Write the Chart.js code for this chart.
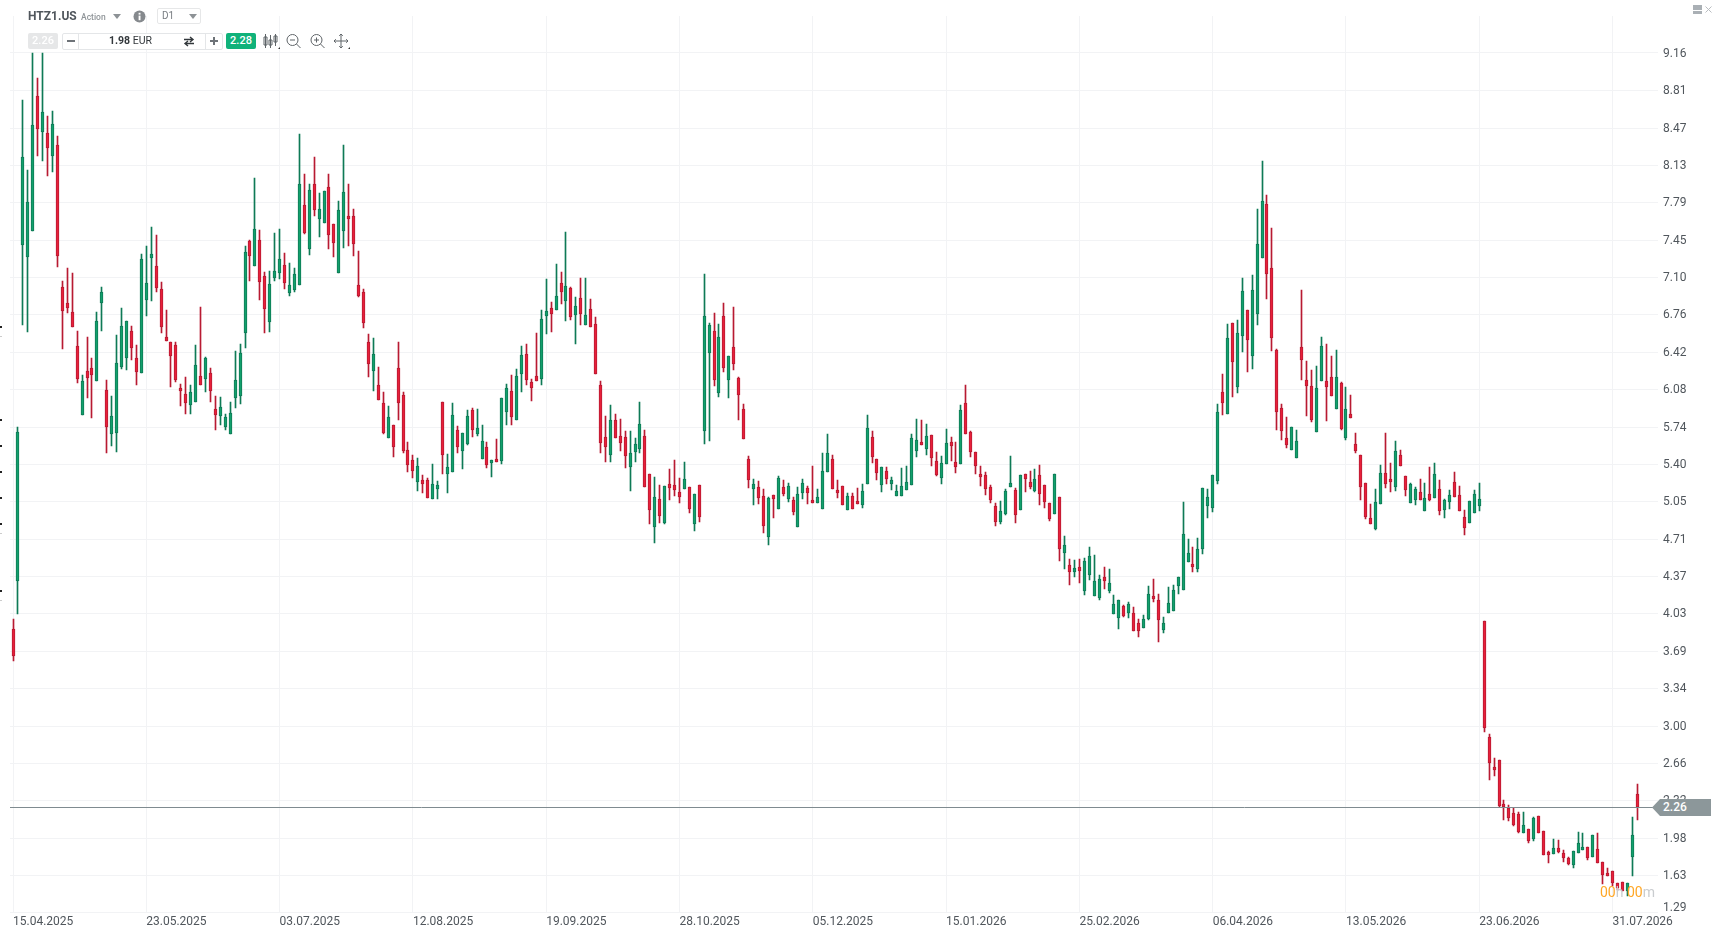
<!DOCTYPE html>
<html lang="en">
<head>
<meta charset="UTF-8">
<title>HTZ1.US D1</title>
<style>
    html, body { margin: 0; padding: 0; background: #fff; overflow: hidden; }
    body { width: 1717px; height: 933px; position: relative; font-family: Roboto, sans-serif; }
    canvas { position: absolute; left: 0; top: 0; }
    .abs { position: absolute; white-space: nowrap; }
    .tri { position: absolute; width: 0; height: 0; border-left: 4px solid transparent; border-right: 4px solid transparent; border-top: 5px solid #8d9296; }
    .mark { position: absolute; left: 0; width: 2px; height: 2px; background: #222; }
    .markGrey { position: absolute; left: 0; width: 2px; height: 1px; background: #ccc; }
    #volBox { position: absolute; left: 62px; top: 33px; width: 159px; height: 15px; border: 1px solid #e4e6e8; border-radius: 2px; background: #fff; }
    #countdown { position: absolute; left: 1600px; top: 882px; font-size: 14px; line-height: 20px; color: #c9cccf; white-space: nowrap; }
    #countdown b { font-weight: 400; color: #ffa726; }
    #priceTag { position: absolute; left: 1652px; top: 799px; width: 59px; height: 17px; background: #8c979a;
        clip-path: polygon(0 50%, 8px 0, 100% 0, 100% 100%, 8px 100%); color: #fff; font-size: 12px; font-weight: 500; line-height: 17px; text-indent: 11px; }
</style>
<script src="https://cdn.jsdelivr.net/npm/chart.js"></script>
</head>
<body>
<canvas id="chart" width="1717" height="933"></canvas>

<!-- top left toolbar -->
<div class="abs" style="left:28px;top:8px;font-size:12px;line-height:16px;font-weight:700;color:#50565c;">HTZ1.US</div>
<div class="abs" style="left:81px;top:10px;font-size:8.5px;line-height:14px;font-weight:500;color:#8f9498;">Action</div>
<div class="tri" style="left:113px;top:14px;"></div>
<svg class="abs" style="left:133px;top:10px;" width="13" height="13"><circle cx="6.5" cy="6.5" r="6" fill="#85898d"/><rect x="5.6" y="5.6" width="1.9" height="4.6" fill="#fff"/><rect x="5.6" y="2.8" width="1.9" height="1.8" fill="#fff"/></svg>
<div class="abs" style="left:157px;top:8px;width:42px;height:14px;border:1px solid #e6e7e8;border-radius:2px;"></div>
<div class="abs" style="left:162px;top:9px;font-size:10px;line-height:14px;color:#787d82;">D1</div>
<div class="tri" style="left:189px;top:14px;"></div>

<div class="abs" style="left:28px;top:33px;width:30px;height:16px;background:#e6e7e8;border-radius:2px;color:#fff;font-size:11px;font-weight:500;line-height:16px;text-align:center;">2.26</div>
<div id="volBox"></div>
<div class="abs" style="left:78px;top:33px;width:1px;height:17px;background:#e4e6e8;"></div>
<div class="abs" style="left:205px;top:33px;width:1px;height:17px;background:#e4e6e8;"></div>
<div class="abs" style="left:67px;top:40px;width:8px;height:2px;background:#6e7378;"></div>
<div class="abs" style="left:210px;top:40px;width:8px;height:2px;background:#6e7378;"></div>
<div class="abs" style="left:213px;top:37px;width:2px;height:8px;background:#6e7378;"></div>
<div class="abs" style="left:109px;top:33px;font-size:10.5px;line-height:16px;color:#33383c;"><span style="font-weight:700;">1.98</span> EUR</div>
<svg class="abs" style="left:183px;top:36px;" width="12" height="11"><path d="M1 3.5h8M7 1l3 2.5-3 2.5M11 7.5H3M5 5L2 7.5 5 10" fill="none" stroke="#33383c" stroke-width="1.4"/></svg>
<div class="abs" style="left:226px;top:33px;width:30px;height:16px;background:#10b27a;border-radius:2px;color:#fff;font-size:11px;font-weight:500;line-height:16px;text-align:center;">2.28</div>

<svg class="abs" style="left:262px;top:32px;" width="90" height="20" fill="none" stroke="#5f6468" stroke-width="1">
    <path d="M3.500 2v14M2 5h3v8H2zM8.500 3v13M7 8h3v5H7zM13.500 2v12M12 4h3v6h-3z"/>
    <path d="M16 17h2v-2z" fill="#333" stroke="none"/>
    <circle cx="30.500" cy="8" r="5.500"/><path d="M28 8h5M34.500 12l4 4"/>
    <circle cx="54.500" cy="8" r="5.500"/><path d="M52 8h5M54.500 5.500v5M58.500 12l4 4"/>
    <path d="M79 2v14M72 9h14M77.200 3.800 79 2l1.800 1.800M77.200 14.200 79 16l1.800-1.800M73.800 7.200 72 9l1.800 1.800M84.200 7.200 86 9l-1.800 1.800"/>
    <path d="M86 17h2v-2z" fill="#333" stroke="none"/>
</svg>

<!-- window buttons -->
<div class="abs" style="left:1693px;top:5px;width:9px;height:9px;background:#aab0b5;"></div>
<div class="abs" style="left:1693px;top:10px;width:9px;height:1px;background:#fff;"></div>
<svg class="abs" style="left:1705px;top:6px;" width="7" height="7"><path d="M0.500 0.500l6 6M6.500 0.500l-6 6" stroke="#b9bdc1" stroke-width="1"/></svg>

<!-- leftovers on the left edge -->
<div class="mark" style="top:326px;"></div><div class="markGrey" style="top:336px;"></div>
<div class="mark" style="top:419px;"></div><div class="mark" style="top:445px;"></div>
<div class="mark" style="top:471px;"></div><div class="mark" style="top:497px;"></div>
<div class="mark" style="top:523px;"></div><div class="markGrey" style="top:533px;"></div>
<div class="mark" style="top:590px;"></div><div class="markGrey" style="top:600px;"></div>

<div id="priceTag">2.26</div>
<div id="countdown"><b>00</b>h <b>00</b>m</div>

<script>
const opens = [
    3.886,4.328,7.405,7.295,7.533,8.766,8.436,8.427,8.217,8.317,
    7.017,6.871,6.788,6.477,5.845,6.248,6.276,6.157,6.871,6.074,
    5.671,5.681,6.285,6.367,6.614,6.367,6.233,6.898,7.283,7.209,
    6.999,6.56,6.514,6.486,6.092,6.037,5.937,5.964,6.202,6.175,
    6.23,5.9,5.836,5.735,5.671,6.001,6.019,6.596,7.438,7.209,
    7.448,7.118,6.697,7.10,7.145,7.219,6.962,6.99,7.036,7.768,
    7.365,7.96,7.64,7.603,7.933,7.594,7.145,7.53,7.667,7.667,
    7.036,6.971,6.514,6.248,6.12,5.955,5.635,5.754,6.276,6.028,
    5.525,5.433,5.235,5.247,5.247,5.073,5.165,5.965,5.305,5.327,
    5.708,5.516,5.58,5.891,5.672,5.443,5.553,5.406,5.443,5.424,
    5.873,6.065,5.8,6.221,6.404,6.148,6.203,6.175,6.752,6.825,
    6.807,7.054,6.889,7.008,6.761,6.917,6.67,6.816,6.679,6.12,
    5.644,5.479,5.8,5.653,5.644,5.369,5.507,5.534,5.653,5.305,
    4.82,5.076,4.857,5.214,5.205,5.141,5.168,5.186,4.848,5.205,
    5.699,6.413,6.615,6.047,6.752,6.166,6.468,6.184,5.9,5.443,
    5.168,5.186,5.104,4.729,5.113,4.985,5.186,5.076,5.067,4.82,
    5.131,5.177,5.067,5.04,4.985,5.324,5.443,5.159,5.195,4.976,
    5.104,5.058,5.021,5.214,5.644,5.443,5.204,5.333,5.214,5.104,
    5.104,5.159,5.204,5.516,5.598,5.534,5.662,5.424,5.269,5.397,
    5.598,5.415,5.397,5.955,5.69,5.507,5.305,5.296,5.186,5.012,
    4.866,4.939,5.186,5.159,4.976,5.305,5.232,5.15,5.296,5.204,
    5.04,4.939,5.095,4.582,4.472,4.408,4.454,4.234,4.38,4.188,
    4.17,4.362,4.234,4.023,3.987,4.097,4.032,4.032,3.941,3.895,
    3.978,4.188,4.151,3.877,4.032,4.051,4.28,4.243,4.5,4.481,
    4.435,4.618,5.012,4.994,5.241,6.056,5.858,6.688,6.102,6.569,
    6.807,6.386,6.77,7.283,7.778,7.192,6.441,5.91,5.635,5.525,
    5.452,6.468,6.166,6.111,5.69,6.157,6.157,6.194,5.901,6.139,
    5.635,5.855,5.58,5.479,5.223,4.903,4.802,5.031,5.315,5.26,
    5.187,5.479,5.287,5.04,5.067,5.141,4.967,5.122,5.086,5.168,
    4.976,5.049,5.232,5.113,4.912,4.857,4.948,5.012,3.959,2.897,
    2.622,2.686,2.283,2.247,2.198,2.192,2.018,2.054,1.963,2.173,
    2.036,1.844,1.825,1.88,1.835,1.789,1.725,1.835,1.862,1.889,
    1.798,1.871,1.752,1.651,1.67,1.56,1.569,1.487,1.798,2.375
];
const closes = [
    3.642,5.687,8.204,7.795,8.497,8.464,8.62,8.29,8.51,7.301,
    6.797,6.825,6.651,6.175,6.157,6.184,6.211,6.706,6.971,5.735,
    5.836,6.321,6.66,6.706,6.459,6.239,7.274,7.054,7.319,7.008,
    6.651,6.523,6.385,6.166,6.065,5.955,6.056,6.303,6.12,6.367,
    6.065,5.845,5.918,5.827,5.864,6.166,6.413,7.338,7.301,7.548,
    7.063,6.816,7.045,7.164,7.274,7.054,7.036,7.136,7.96,7.512,
    7.905,7.722,7.731,7.896,7.493,7.42,7.722,7.887,7.64,7.411,
    6.935,6.688,6.312,6.404,5.983,5.681,5.827,5.552,5.955,5.516,
    5.388,5.329,5.378,5.217,5.082,5.211,5.202,5.479,5.369,5.846,
    5.553,5.681,5.836,5.708,5.727,5.608,5.388,5.434,5.415,6.001,
    6.093,5.827,6.203,6.395,6.166,6.093,6.157,6.725,6.798,6.77,
    6.935,6.972,7.027,6.743,6.844,6.77,6.761,6.651,6.221,5.589,
    5.553,5.8,5.635,5.589,5.47,5.498,5.58,5.763,5.186,4.976,
    5.095,4.921,5.195,5.177,5.159,5.095,5.26,4.985,5.122,4.912,
    6.752,6.67,6.166,6.56,6.276,6.386,6.313,6.029,5.626,5.25,
    5.214,5.086,4.829,5.086,5.076,5.269,5.122,5.195,4.957,5.122,
    5.223,5.131,5.04,5.095,5.333,5.498,5.168,5.131,5.022,5.104,
    4.985,5.031,5.15,5.726,5.461,5.314,5.369,5.259,5.25,5.15,
    5.195,5.232,5.635,5.617,5.571,5.653,5.452,5.296,5.406,5.589,
    5.562,5.369,5.891,5.671,5.507,5.378,5.278,5.168,5.067,4.866,
    4.966,5.15,5.223,4.93,5.296,5.259,5.186,5.259,5.122,5.049,
    4.893,5.305,4.619,4.655,4.408,4.445,4.417,4.509,4.554,4.326,
    4.344,4.326,4.307,4.115,4.151,4.005,4.115,3.868,3.868,3.978,
    4.206,4.161,3.968,3.941,4.124,4.243,4.362,4.756,4.582,4.454,
    4.618,5.177,5.095,5.296,5.873,5.955,6.551,6.331,6.596,6.981,
    6.532,6.99,7.411,7.805,7.137,6.551,5.873,5.699,5.571,5.736,
    5.608,6.349,6.111,5.8,6.093,6.477,6.102,6.02,6.194,5.717,
    5.901,5.818,5.516,5.187,4.912,4.848,5.049,5.315,5.214,5.232,
    5.516,5.379,5.159,5.214,5.168,5.067,5.086,5.067,5.305,4.967,
    5.067,5.113,5.095,4.967,4.811,5.058,5.122,5.076,2.979,2.659,
    2.594,2.265,2.256,2.155,2.091,2.027,2.091,1.944,2.155,2.018,
    1.816,1.816,1.88,1.844,1.789,1.734,1.853,1.926,1.889,1.789,
    2.0,1.743,1.633,1.624,1.56,1.514,1.487,1.56,2.0,2.256
];
const highs = [
    3.977,5.732,8.729,8.088,9.16,8.931,9.16,8.583,8.629,8.40,
    7.072,7.191,7.145,6.614,6.211,6.56,6.367,6.788,7.017,6.166,
    6.019,6.578,6.825,6.706,6.66,6.486,7.319,7.393,7.567,7.493,
    7.063,6.807,6.514,6.514,6.129,6.193,6.12,6.486,6.834,6.376,
    6.276,6.019,6.01,5.854,5.964,6.431,6.495,7.393,7.448,8.015,
    7.539,7.154,7.164,7.512,7.548,7.329,7.237,7.191,8.418,8.052,
    7.96,8.207,7.878,7.896,8.052,7.594,7.805,8.317,7.96,7.731,
    7.347,6.999,6.587,6.55,6.285,6.056,5.928,5.754,6.514,6.056,
    5.598,5.479,5.452,5.293,5.268,5.397,5.241,5.965,5.488,5.955,
    5.745,5.681,5.891,5.91,5.9,5.754,5.598,5.434,5.626,6.001,
    6.129,6.212,6.267,6.477,6.496,6.175,6.596,6.807,7.091,6.88,
    7.228,7.155,7.521,7.018,6.926,7.1,7.1,6.908,6.743,6.157,
    5.836,5.937,5.855,5.809,5.699,5.699,5.635,5.965,5.708,5.305,
    5.278,5.205,5.195,5.351,5.434,5.269,5.415,5.186,5.122,5.205,
    7.137,6.688,6.779,6.679,6.871,6.386,6.834,6.193,5.946,5.47,
    5.26,5.241,5.168,5.095,5.113,5.287,5.25,5.223,5.095,5.186,
    5.26,5.195,5.379,5.168,5.498,5.672,5.479,5.25,5.195,5.131,
    5.131,5.177,5.214,5.845,5.699,5.443,5.369,5.369,5.278,5.204,
    5.36,5.378,5.671,5.809,5.8,5.763,5.662,5.507,5.47,5.717,
    5.644,5.598,5.937,6.12,5.699,5.507,5.378,5.324,5.204,5.04,
    5.058,5.168,5.47,5.177,5.296,5.305,5.333,5.351,5.388,5.204,
    5.04,5.305,5.095,4.738,4.527,4.518,4.527,4.536,4.637,4.564,
    4.38,4.454,4.435,4.197,4.151,4.106,4.133,4.087,3.978,4.014,
    4.279,4.344,4.206,3.996,4.271,4.289,4.362,5.049,4.71,4.637,
    4.719,5.177,5.168,5.296,5.946,6.221,6.679,6.688,6.715,7.10,
    6.807,7.128,7.732,8.171,7.86,7.558,6.45,5.946,5.827,5.736,
    5.708,6.99,6.34,6.258,6.294,6.56,6.496,6.386,6.441,6.148,
    6.102,6.029,5.681,5.479,5.223,5.031,5.168,5.388,5.681,5.406,
    5.608,5.525,5.287,5.223,5.187,5.26,5.223,5.37,5.406,5.251,
    5.077,5.159,5.324,5.196,4.976,5.058,5.159,5.223,3.959,2.924,
    2.704,2.686,2.32,2.274,2.247,2.21,2.21,2.054,2.164,2.173,
    2.036,1.853,1.963,1.954,1.862,1.798,1.853,2.027,2.018,1.889,
    2.0,2.018,1.752,1.697,1.67,1.56,1.569,1.56,2.164,2.466
];
const lows = [
    3.596,4.026,6.672,6.608,7.533,8.217,8.171,8.034,8.07,7.20,
    6.45,6.779,6.651,6.138,5.845,6.0,5.818,6.157,6.614,5.497,
    5.561,5.506,6.267,6.257,6.349,6.12,6.233,6.752,6.889,6.971,
    6.596,6.523,6.102,6.147,5.928,5.854,5.854,5.964,6.12,6.056,
    5.964,5.708,5.754,5.708,5.671,5.909,5.946,6.459,7.072,7.209,
    6.898,6.596,6.605,7.072,7.09,6.999,6.935,6.971,7.036,7.503,
    7.31,7.667,7.475,7.603,7.365,7.292,7.145,7.374,7.393,7.301,
    6.926,6.642,6.193,6.065,5.983,5.671,5.635,5.461,5.8,5.497,
    5.327,5.272,5.153,5.134,5.082,5.073,5.076,5.305,5.131,5.327,
    5.498,5.351,5.571,5.644,5.653,5.443,5.36,5.278,5.415,5.397,
    5.754,5.754,5.8,6.056,6.12,5.974,6.157,6.12,6.587,6.606,
    6.807,6.862,6.706,6.715,6.496,6.67,6.67,6.651,6.221,5.498,
    5.415,5.415,5.635,5.516,5.36,5.15,5.415,5.498,5.186,4.848,
    4.674,4.857,4.848,5.067,5.104,5.04,5.168,4.948,4.784,4.866,
    5.58,5.608,6.111,6.01,6.239,6.001,6.258,5.8,5.626,5.177,
    5.022,5.031,4.765,4.655,4.902,4.985,5.104,5.049,4.93,4.82,
    5.076,5.031,5.04,5.04,4.985,5.324,5.168,5.086,5.022,4.976,
    4.985,5.031,4.994,5.214,5.406,5.25,5.14,5.214,5.159,5.104,
    5.104,5.159,5.204,5.461,5.571,5.479,5.378,5.287,5.214,5.397,
    5.424,5.314,5.397,5.671,5.461,5.305,5.195,5.113,5.04,4.829,
    4.847,4.93,5.186,4.857,4.976,5.14,5.168,5.14,5.021,4.994,
    4.875,4.939,4.509,4.435,4.289,4.362,4.307,4.197,4.335,4.188,
    4.151,4.252,4.216,4.023,3.886,3.996,3.987,3.868,3.813,3.895,
    3.968,4.133,3.767,3.849,4.032,4.051,4.206,4.243,4.5,4.408,
    4.408,4.573,4.902,4.957,5.214,5.845,5.858,6.01,6.047,6.422,
    6.239,6.267,6.67,7.283,6.908,6.432,5.708,5.617,5.544,5.525,
    5.452,6.166,5.836,5.782,5.69,6.157,5.791,6.02,5.901,5.708,
    5.617,5.818,5.498,5.067,4.893,4.848,4.793,5.031,5.177,5.141,
    5.15,5.379,5.104,5.04,5.022,5.067,4.967,5.058,5.086,4.93,
    4.903,4.985,5.095,4.967,4.747,4.857,4.948,4.967,2.942,2.503,
    2.54,2.256,2.137,2.128,2.082,2.018,2.018,1.926,1.944,2.018,
    1.816,1.743,1.825,1.835,1.752,1.725,1.697,1.835,1.862,1.77,
    1.798,1.743,1.551,1.624,1.532,1.496,1.487,1.441,1.624,2.137
];

// date axis: one label every 27 bars
const dateTickBars = [0, 27, 54, 81, 108, 135, 162, 189, 216, 243, 270, 297, 324];
const dateLabels = ['15.04.2025','23.05.2025','03.07.2025','12.08.2025','19.09.2025','28.10.2025','05.12.2025','15.01.2026','25.02.2026','06.04.2026','13.05.2026','23.06.2026','31.07.2026'];

// price axis: grid positions as read, and the labels printed next to them
const priceTicks = [9.16,8.818,8.47,8.131,7.792,7.445,7.106,6.767,6.419,6.08,5.732,5.394,5.055,4.707,4.368,4.029,3.681,3.343,2.995,2.656,2.317,1.969,1.631,1.292];
const priceLabels = ['9.16','8.81','8.47','8.13','7.79','7.45','7.10','6.76','6.42','6.08','5.74','5.40','5.05','4.71','4.37','4.03','3.69','3.34','3.00','2.66','2.32','1.98','1.63','1.29'];
// labels sit a hair under their grid line, the lowest one is pushed up off the edge
const priceLabelTicks = priceTicks.map(v => v - 0.009);
priceLabelTicks[priceLabelTicks.length - 1] = 1.331;

const lastPrice = closes[closes.length - 1];

const isUp = i => closes[i] >= opens[i];
const bodyFill = opens.map((o, i) => isUp(i) ? '#12a06c' : '#e8203a');
const bodyLine = opens.map((o, i) => isUp(i) ? '#0e7a56' : '#b81a32');

// candles land on whole pixels, otherwise the 1px wicks go blurry
const snapCandles = {
    id: 'snapCandles',
    afterDatasetsUpdate(chart) {
        chart.data.datasets.forEach((ds, d) => {
            chart.getDatasetMeta(d).data.forEach(bar => {
                bar.x = Math.floor(bar.x) + 0.5;
                bar.y = Math.round(bar.y);
                bar.base = Math.round(bar.base);
            });
        });
    }
};

// current price line, stops at the tag on the right
const priceLine = {
    id: 'priceLine',
    afterDatasetsDraw(chart) {
        const y = Math.round(chart.scales.y.getPixelForValue(lastPrice)) + 0.5;
        const ctx = chart.ctx;
        ctx.save();
        ctx.strokeStyle = '#7f8b90';
        ctx.lineWidth = 1;
        ctx.beginPath();
        ctx.moveTo(chart.chartArea.left, y);
        ctx.lineTo(1656, y);
        ctx.stroke();
        ctx.restore();
    }
};

new Chart(document.getElementById('chart'), {
    type: 'bar',
    plugins: [snapCandles, priceLine],
    data: {
        datasets: [
            {
                label: 'body',
                order: 1,
                grouped: false,
                data: opens.map((o, i) => ({ x: i, y: [o, closes[i]] })),
                backgroundColor: bodyFill,
                borderColor: bodyLine,
                borderWidth: 1,
                borderSkipped: false,
                barThickness: 3
            },
            {
                label: 'wick',
                order: 2,
                grouped: false,
                data: highs.map((h, i) => ({ x: i, y: [lows[i], h] })),
                backgroundColor: bodyLine,
                borderWidth: 0,
                barThickness: 1
            }
        ]
    },
    options: {
        responsive: false,
        animation: false,
        events: [],
        layout: { padding: { left: 10, top: 16, right: 0, bottom: 0 } },
        plugins: { legend: { display: false }, tooltip: { enabled: false } },
        scales: {
            x: {
                type: 'linear',
                offset: false,
                min: -0.6077,
                max: 333.2,
                grid: { color: '#f2f3f5', lineWidth: 1, drawTicks: false, offset: false },
                border: { display: false },
                afterBuildTicks: scale => { scale.ticks = dateTickBars.map(v => ({ value: v })); },
                afterFit: scale => { scale.height = 20.3; },
                ticks: {
                    autoSkip: false,
                    maxRotation: 0,
                    align: 'start',
                    padding: 2,
                    color: '#50565c',
                    font: { family: 'Roboto', size: 12 },
                    callback: v => dateLabels[dateTickBars.indexOf(v)]
                }
            },
            y: {
                position: 'right',
                min: 1.289,
                max: 9.4985,
                grid: { color: '#f2f3f5', lineWidth: 1, drawTicks: false },
                border: { display: false },
                afterBuildTicks: scale => { scale.ticks = priceTicks.map(v => ({ value: v })); },
                afterFit: scale => { scale.width = 0; },
                ticks: { display: false }
            },
            yLabels: {
                type: 'linear',
                axis: 'y',
                position: 'right',
                min: 1.289,
                max: 9.4985,
                grid: { display: false, drawTicks: false },
                border: { display: false },
                afterBuildTicks: scale => { scale.ticks = priceLabelTicks.map(v => ({ value: v })); },
                afterFit: scale => { scale.width = 59; },
                ticks: {
                    autoSkip: false,
                    padding: 5,
                    color: '#50565c',
                    font: { family: 'Roboto', size: 12 },
                    callback: (v, i) => priceLabels[i]
                }
            }
        }
    }
});
</script>
</body>
</html>
